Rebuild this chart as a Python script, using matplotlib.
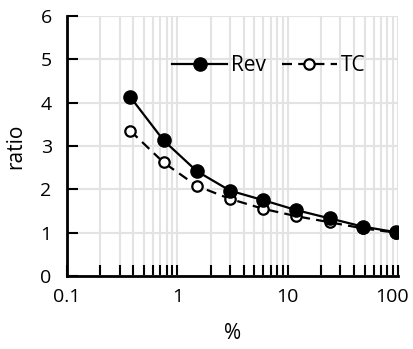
import matplotlib
matplotlib.use("Agg")
import matplotlib.pyplot as plt
import matplotlib.transforms as mtransforms
from matplotlib.ticker import LogLocator, NullFormatter, FixedLocator, FixedFormatter

pct = [0.375, 0.75, 1.5, 3, 6, 12, 24, 48, 96]
rev = [4.13, 3.13, 2.42, 1.97, 1.75, 1.52, 1.33, 1.14, 1.01]
tc = [3.35, 2.62, 2.08, 1.78, 1.55, 1.38, 1.24, 1.10, 1.00]
xticks = [0.1, 1, 10, 100]
xticklabels = ["0.1", "1", "10", "100"]
yticks = [0, 1, 2, 3, 4, 5, 6]

plt.rcParams['font.family'] = ['Open Sans', 'DejaVu Sans']
FS = 15
TFS = 14

fig = plt.figure(figsize=(4.13, 3.49), dpi=100)
ax = fig.add_axes([67/413, 1 - 276/349, (398 - 67)/413, (276 - 16)/349])

ax.plot(pct, rev, color='black', lw=1.6, marker='o', ms=9.5, mfc='black', mec='black',
        label='Rev', zorder=4)
ax.plot(pct, tc, color='black', lw=1.6, ls=(0, (4.5, 2.8)), marker='o', ms=7.5, mfc='white',
        mec='black', mew=1.6, label='TC', zorder=3)

ax.set_xscale('log')
ax.set_xlim(0.1, 100)
ax.set_ylim(0, 6)
ax.xaxis.set_major_locator(FixedLocator(xticks))
ax.xaxis.set_major_formatter(FixedFormatter(xticklabels))
ax.xaxis.set_minor_locator(LogLocator(base=10, subs=range(2, 10)))
ax.xaxis.set_minor_formatter(NullFormatter())
ax.set_yticks(yticks)

ax.grid(True, which='both', axis='x', color='#e3e3e3', lw=1.5, zorder=0)
ax.grid(True, which='major', axis='y', color='#e3e3e3', lw=1.5, zorder=0)
ax.set_axisbelow(True)

for s in ['top', 'right']:
    ax.spines[s].set_visible(False)
for s in ['left', 'bottom']:
    ax.spines[s].set_linewidth(2)
    ax.spines[s].set_zorder(5)

ax.tick_params(axis='x', which='both', direction='in', length=8, width=1.5, labelsize=TFS, pad=9)
ax.tick_params(axis='y', which='major', direction='in', length=8, width=1.5, labelsize=TFS, pad=11)

# nudge the last x tick label inward, as in the reference
fig.canvas.draw()
lbl = ax.xaxis.get_majorticklabels()[-1]
lbl.set_transform(lbl.get_transform() + mtransforms.ScaledTranslation(-6/100, 0, fig.dpi_scale_trans))

ax.set_xlabel('%', fontsize=FS, labelpad=12)
ax.set_ylabel('ratio', fontsize=FS, labelpad=10)

leg = ax.legend(ncol=2, loc='center', bbox_to_anchor=(0.61, 0.81), frameon=False,
                fontsize=FS, handlelength=2.6, columnspacing=0.8, handletextpad=0.2)

fig.savefig('out.png', dpi=100)
